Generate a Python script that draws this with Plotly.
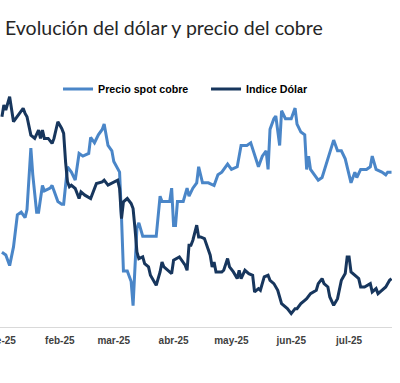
import plotly.graph_objects as go

title_text = "Evolución del dólar y precio del cobre"

cobre_fechas = [
    "2025-01-02", "2025-01-04", "2025-01-06", "2025-01-08", "2025-01-10", "2025-01-12", "2025-01-14",
    "2025-01-15", "2025-01-17", "2025-01-18", "2025-01-20", "2025-01-21", "2025-01-23", "2025-01-24",
    "2025-01-27", "2025-01-28", "2025-01-29", "2025-01-31", "2025-02-02", "2025-02-03", "2025-02-04",
    "2025-02-05", "2025-02-07", "2025-02-09", "2025-02-11", "2025-02-13", "2025-02-16", "2025-02-17",
    "2025-02-19", "2025-02-21", "2025-02-23", "2025-02-24", "2025-02-26", "2025-02-28", "2025-03-01",
    "2025-03-04", "2025-03-05", "2025-03-06", "2025-03-08", "2025-03-10", "2025-03-11", "2025-03-12",
    "2025-03-13", "2025-03-14", "2025-03-16", "2025-03-18", "2025-03-20", "2025-03-23", "2025-03-25",
    "2025-03-26", "2025-03-28", "2025-03-30", "2025-03-31", "2025-04-01", "2025-04-02", "2025-04-03",
    "2025-04-06", "2025-04-08", "2025-04-09", "2025-04-11", "2025-04-13", "2025-04-14", "2025-04-16",
    "2025-04-19", "2025-04-22", "2025-04-24", "2025-04-26", "2025-04-29", "2025-05-01", "2025-05-04",
    "2025-05-06", "2025-05-09", "2025-05-11", "2025-05-13", "2025-05-15", "2025-05-17", "2025-05-19",
    "2025-05-20", "2025-05-21", "2025-05-23", "2025-05-24", "2025-05-26", "2025-05-27", "2025-05-29",
    "2025-06-01", "2025-06-03", "2025-06-04", "2025-06-06", "2025-06-08", "2025-06-09", "2025-06-10",
    "2025-06-11", "2025-06-14", "2025-06-15", "2025-06-17", "2025-06-20", "2025-06-23", "2025-06-25",
    "2025-06-27", "2025-06-29", "2025-07-02", "2025-07-04", "2025-07-05", "2025-07-07", "2025-07-10",
    "2025-07-12", "2025-07-13", "2025-07-15", "2025-07-18", "2025-07-20", "2025-07-21", "2025-07-23",
]
cobre_valores = [
    4.08, 4.07, 4.03, 4.10, 4.22, 4.23, 4.21,
    4.24, 4.47, 4.37, 4.23, 4.23, 4.33, 4.31,
    4.32, 4.33, 4.31, 4.27, 4.26, 4.26, 4.33,
    4.40, 4.38, 4.35, 4.45, 4.44, 4.45, 4.51,
    4.49, 4.52, 4.54, 4.56, 4.48, 4.46, 4.42,
    4.38, 4.21, 4.01, 4.01, 3.97, 3.88, 4.06,
    4.17, 4.19, 4.14, 4.14, 4.14, 4.14, 4.29,
    4.27, 4.27, 4.27, 4.32, 4.18, 4.18, 4.27,
    4.27, 4.32, 4.29, 4.32, 4.34, 4.40, 4.34,
    4.34, 4.33, 4.37, 4.38, 4.41, 4.39, 4.40,
    4.48, 4.48, 4.49, 4.44, 4.40, 4.44, 4.46,
    4.39, 4.54, 4.58, 4.59, 4.48, 4.61, 4.58,
    4.58, 4.62, 4.56, 4.53, 4.52, 4.39, 4.44,
    4.39, 4.36, 4.35, 4.36, 4.43, 4.50, 4.46,
    4.46, 4.43, 4.34, 4.38, 4.36, 4.39, 4.39,
    4.40, 4.44, 4.39, 4.38, 4.37, 4.38, 4.38,
]

dolar_fechas = [
    "2025-01-02", "2025-01-03", "2025-01-04", "2025-01-06", "2025-01-08", "2025-01-11", "2025-01-13",
    "2025-01-14", "2025-01-15", "2025-01-17", "2025-01-19", "2025-01-21", "2025-01-22", "2025-01-23",
    "2025-01-24", "2025-01-26", "2025-01-28", "2025-01-29", "2025-01-31", "2025-02-02", "2025-02-03",
    "2025-02-04", "2025-02-05", "2025-02-06", "2025-02-07", "2025-02-09", "2025-02-11", "2025-02-12",
    "2025-02-14", "2025-02-17", "2025-02-20", "2025-02-23", "2025-02-24", "2025-02-26", "2025-03-01",
    "2025-03-03", "2025-03-04", "2025-03-05", "2025-03-06", "2025-03-08", "2025-03-10", "2025-03-11",
    "2025-03-12", "2025-03-13", "2025-03-14", "2025-03-16", "2025-03-17", "2025-03-19", "2025-03-20",
    "2025-03-23", "2025-03-25", "2025-03-26", "2025-03-27", "2025-03-29", "2025-03-31", "2025-04-01",
    "2025-04-04", "2025-04-07", "2025-04-08", "2025-04-09", "2025-04-10", "2025-04-11", "2025-04-13",
    "2025-04-14", "2025-04-15", "2025-04-17", "2025-04-19", "2025-04-20", "2025-04-21", "2025-04-22",
    "2025-04-23", "2025-04-26", "2025-04-27", "2025-04-29", "2025-04-30", "2025-05-02", "2025-05-04",
    "2025-05-05", "2025-05-06", "2025-05-08", "2025-05-10", "2025-05-12", "2025-05-13", "2025-05-15",
    "2025-05-16", "2025-05-18", "2025-05-20", "2025-05-21", "2025-05-23", "2025-05-25", "2025-05-27",
    "2025-05-28", "2025-05-30", "2025-06-01", "2025-06-03", "2025-06-04", "2025-06-06", "2025-06-08",
    "2025-06-09", "2025-06-11", "2025-06-14", "2025-06-15", "2025-06-17", "2025-06-18", "2025-06-20",
    "2025-06-21", "2025-06-23", "2025-06-25", "2025-06-27", "2025-06-29", "2025-06-30", "2025-07-01",
    "2025-07-02", "2025-07-05", "2025-07-06", "2025-07-07", "2025-07-09", "2025-07-12", "2025-07-13",
    "2025-07-15", "2025-07-16", "2025-07-18", "2025-07-20", "2025-07-22", "2025-07-23",
]
dolar_valores = [
    107.6, 108.3, 108.0, 108.8, 107.3, 107.8, 108.1,
    107.8, 107.6, 106.5, 106.3, 106.8, 106.3, 106.8,
    106.3, 106.3, 106.0, 106.3, 107.3, 106.9, 106.6,
    104.9, 103.7, 103.4, 103.5, 103.3, 102.7, 103.1,
    102.9, 102.7, 103.6, 103.7, 103.8, 103.5, 103.7,
    103.8, 103.3, 101.5, 102.5, 102.7, 102.4, 102.1,
    100.9, 99.5, 99.1, 99.2, 98.8, 98.6, 98.1,
    97.5, 98.3, 98.9, 98.6, 98.4, 98.2, 99.0,
    99.2, 98.7, 98.4, 99.9, 99.9, 100.2, 101.1,
    100.4, 100.4, 100.3, 99.7, 99.3, 98.6, 98.9,
    98.3, 98.3, 98.4, 99.1, 98.6, 98.3, 97.9,
    98.4, 97.9, 98.4, 98.2, 98.1, 97.1, 97.3,
    97.2, 98.0, 98.1, 97.8, 97.6, 97.2, 96.4,
    96.3, 96.1, 95.8, 96.1, 96.1, 96.4, 96.6,
    96.7, 97.0, 97.2, 97.6, 97.9, 97.6, 97.4,
    96.8, 96.3, 96.7, 97.8, 98.2, 99.2, 99.2,
    98.3, 98.0, 97.9, 97.4, 97.4, 97.6, 97.1,
    97.3, 97.0, 97.2, 97.4, 97.8, 97.9,
]

tick_fechas = ["2025-01-01", "2025-02-01", "2025-03-01", "2025-04-01",
               "2025-05-01", "2025-06-01", "2025-07-01"]
tick_textos = ["ene-25", "feb-25", "mar-25", "abr-25", "may-25", "jun-25", "jul-25"]

fig = go.Figure()
fig.add_trace(go.Scatter(
    x=cobre_fechas, y=cobre_valores, name="Precio spot cobre", mode="lines",
    line=dict(color="#4a86c8", width=3), yaxis="y",
))
fig.add_trace(go.Scatter(
    x=dolar_fechas, y=dolar_valores, name="Indice Dólar", mode="lines",
    line=dict(color="#17365d", width=3), yaxis="y2",
))

fig.update_layout(
    width=400, height=383,
    margin=dict(l=0, r=8, t=60, b=56, autoexpand=False),
    paper_bgcolor="white", plot_bgcolor="white",
    title=dict(
        text=title_text, x=5 / 400, xanchor="left", xref="container",
        y=1 - 28 / 383, yanchor="middle", yref="container",
        font=dict(family="Lato", size=19.5, color="#262626"),
    ),
    showlegend=True,
    legend=dict(
        orientation="h", x=0.148, xanchor="left", y=0.891, yanchor="middle",
        font=dict(family="Liberation Sans", size=10.7, color="#000000", weight="bold"),
        bgcolor="rgba(0,0,0,0)", itemwidth=30,
        entrywidth=103, entrywidthmode="pixels",
    ),
    xaxis=dict(
        type="date", range=["2025-01-01", "2025-07-23 06:00"],
        tickvals=tick_fechas, ticktext=tick_textos,
        showgrid=False, zeroline=False, showline=True, automargin=False,
        linecolor="#d9d9d9", linewidth=1, ticks="",
        ticklabeloverflow="allow", ticklabelstandoff=4,
        tickfont=dict(family="Liberation Sans", size=10, color="#404040", weight="bold"),
    ),
    yaxis=dict(range=[3.8, 4.8], visible=False, showgrid=False, zeroline=False, automargin=False),
    yaxis2=dict(range=[95, 111], visible=False, overlaying="y", side="right",
                showgrid=False, zeroline=False, automargin=False),
)

fig.write_html(
    "out.html",
    config={"displayModeBar": False},
    post_script="document.body.style.margin='0';document.body.style.padding='0';",
)
